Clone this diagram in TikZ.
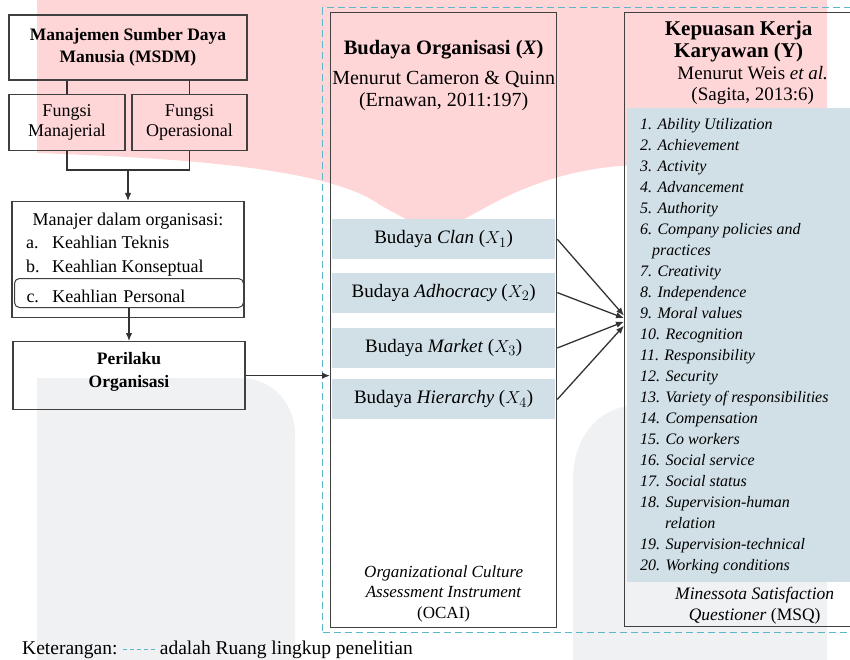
\documentclass[tikz,border=0pt]{standalone}
\usepackage{fontspec}
\setmainfont{Liberation Serif}
\usetikzlibrary{positioning,arrows.meta}
\definecolor{wmpink}{RGB}{255,214,216}
\definecolor{wmgray}{RGB}{239,241,243}
\definecolor{bandblue}{RGB}{209,224,231}
\definecolor{scopeblue}{RGB}{92,183,203}
\tikzset{
	box/.style={draw=black!75, line width=1.3pt, inner sep=0pt, align=center},
	band/.style={fill=bandblue, minimum width=223pt, minimum height=40pt, inner sep=0pt, font=\fontsize{19}{22}\selectfont},
	head/.style={font=\fontsize{17.5}{22}\selectfont\bfseries, align=center, inner sep=0pt},
	txt/.style={font=\fontsize{18}{20}\selectfont, align=center, inner sep=0pt},
	conn/.style={draw=black!80, line width=1.3pt},
	arr/.style={conn, -{Latex[length=8pt, width=6.5pt]}},
	scopebox/.style={draw=scopeblue, line width=1.4pt, dash pattern=on 7pt off 4pt},
}
\begin{document}
\begin{tikzpicture}[x=1pt, y=-1pt]
	\clip (0,0) rectangle (850,660);
	
	\fill[wmpink] (37,0) -- (37,153) .. controls (180,158) and (330,168) .. (380,205) -- (435,235) -- (490,205) .. controls (540,178) and (590,166) .. (640,165) -- (827,165) -- (827,0) -- cycle;
	\fill[wmgray] (37,670) -- (37,378) -- (240,378) .. controls (272,378) and (295,403) .. (295,435) -- (295,670) -- cycle;
	\fill[wmgray] (827,670) -- (827,405) -- (640,405) .. controls (600,405) and (573,435) .. (573,480) -- (573,670) -- cycle;
	
	\node[scopebox, minimum width=540pt, minimum height=625pt, anchor=north west] (lingkup) at (322,7) {};
	
	\node[box, head, minimum width=238pt, minimum height=65pt] (msdm) at (128,47.5) {Manajemen Sumber Daya\\Manusia (MSDM)};
	\node[box, txt, minimum width=116pt, minimum height=56pt, below right=13pt and 0pt of msdm.south west] (fman) {Fungsi\\Manajerial};
	\node[box, txt, minimum width=115pt, minimum height=56pt, below left=13pt and 0pt of msdm.south east] (fop) {Fungsi\\Operasional};
	\coordinate[below=19pt of fman.south] (join);
	
	\node[box, minimum width=232pt, minimum height=116pt, anchor=north] (mgr) at (128,201) {};
	\node[txt, below=12pt of mgr.north] (mgrhead) {Manajer dalam organisasi:};
	\node[txt, font=\fontsize{18}{24}\selectfont, align=left, anchor=north west] (skill) at (26,236) {\makebox[26pt][l]{a.}Keahlian Teknis\\\makebox[26pt][l]{b.}Keahlian Konseptual};
	\node[draw=black!75, line width=1pt, rounded corners=5pt, txt, align=left, text width=215pt, inner xsep=7pt, minimum height=29pt, text height=18pt, text depth=0pt, anchor=north west] (pers) at (14,278) {\hspace*{5pt}\makebox[26pt][l]{c.}Keahlian Personal};
	
	\node[box, head, font=\fontsize{17.5}{23}\selectfont\bfseries, text depth=11pt, minimum width=232pt, minimum height=68pt, below=33pt of pers.south] (perl) {Perilaku\\Organisasi};
	
	\node[box, minimum width=226pt, minimum height=615pt, anchor=north west] (budaya) at (330,12) {};
	\node[head, font=\fontsize{20.5}{22}\selectfont\bfseries, below=28pt of budaya.north] (budayahead) {Budaya Organisasi (\textit{X})};
	\node[txt, font=\fontsize{20}{22}\selectfont, below=12pt of budayahead] (budayasrc) {Menurut Cameron \& Quinn\\(Ernawan, 2011:197)};
	\node[band, below=207pt of budaya.north] (clan) {Budaya \textit{Clan} ($X_1$)};
	\node[band, below=13pt of clan] (adho) {Budaya \textit{Adhocracy} ($X_2$)};
	\node[band, below=15pt of adho] (mark) {Budaya \textit{Market} ($X_3$)};
	\node[band, below=11pt of mark] (hier) {Budaya \textit{Hierarchy} ($X_4$)};
	\node[txt, font=\fontsize{17}{20.5}\selectfont, above=6pt of budaya.south] (ocai) {\textit{Organizational Culture}\\\textit{Assessment Instrument}\\(OCAI)};
	
	\node[box, minimum width=236pt, minimum height=614pt, anchor=north west] (kepuasan) at (624,12) {};
	\node[fill=bandblue, minimum width=226pt, minimum height=474pt, inner sep=0pt, anchor=north west] (dimensi) at (627,108) {};
	\node[head, font=\fontsize{21}{22}\selectfont\bfseries, below=9pt of kepuasan.north, xshift=-4pt] (kephead) {Kepuasan Kerja\\Karyawan (Y)};
	\node[txt, font=\fontsize{19}{21}\selectfont, below=4pt of kephead, xshift=14pt] (kepsrc) {Menurut Weis \textit{et al.}\\(Sagita, 2013:6)};
	\node[txt, font=\fontsize{16}{21}\selectfont\itshape, align=left, anchor=north west] (dimtext) at (640,118) {1. Ability Utilization\\2. Achievement\\3. Activity\\4. Advancement\\5. Authority\\6. Company policies and\\\hspace*{12pt}practices\\7. Creativity\\8. Independence\\9. Moral values\\10. Recognition\\11. Responsibility\\12. Security\\13. Variety of responsibilities\\14. Compensation\\15. Co workers\\16. Social service\\17. Social status\\18. Supervision-human\\\hspace*{25pt}relation\\19. Supervision-technical\\20. Working conditions};
	\node[txt, font=\fontsize{17.5}{21}\selectfont, above=3pt of kepuasan.south, xshift=12pt] (msq) {\textit{Minessota Satisfaction}\\\textit{Questioner} (MSQ)};
	
	\draw[conn] (fman.north) -- (fman.north |- msdm.south);
	\draw[conn] (fop.north) -- (fop.north |- msdm.south);
	\draw[conn] (fman.south) -- (join) -| (fop.south);
	\draw[arr] (join -| msdm.south) -- (mgr.north);
	\draw[arr] (pers.south) -- (perl.north);
	\draw[arr] (perl.east) -- (perl.east -| budaya.west);
	\draw[arr] (clan.east -| budaya.east) -- ([yshift=4pt]kepuasan.west);
	\draw[arr] (adho.east -| budaya.east) -- ([yshift=1.5pt]kepuasan.west);
	\draw[arr] (mark.east -| budaya.east) -- ([yshift=-2pt]kepuasan.west);
	\draw[arr] (hier.east -| budaya.east) -- ([yshift=-6pt]kepuasan.west);
	
	\node[txt, font=\fontsize{19.5}{20}\selectfont, anchor=base west] (ket) at (22,654) {Keterangan:};
	\node[txt, font=\fontsize{19.5}{20}\selectfont, right=42pt of ket.base east, anchor=base west] (ketisi) {adalah Ruang lingkup penelitian};
	\draw[scopebox, line width=1pt, dash pattern=on 4pt off 3pt] ([xshift=5pt, yshift=5pt]ket.base east) -- ([xshift=-5pt, yshift=5pt]ketisi.base west);
\end{tikzpicture}
\end{document}
